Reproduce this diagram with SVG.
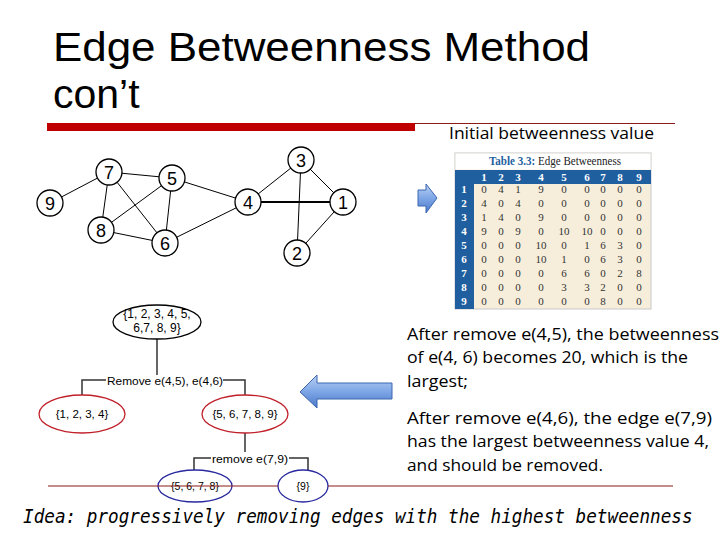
<svg xmlns="http://www.w3.org/2000/svg" width="720" height="540" viewBox="0 0 720 540">
<defs>
<linearGradient id="ag" x1="0" y1="0" x2="0" y2="1">
<stop offset="0" stop-color="#b9d0f2"/>
<stop offset="0.5" stop-color="#7ea6e6"/>
<stop offset="1" stop-color="#4a78c8"/>
</linearGradient>
<style>
.title{font-family:"Liberation Sans","DejaVu Sans",sans-serif;font-size:41px;fill:#000}
.body{font-family:"Open Sans","Liberation Sans",sans-serif;font-size:16px;fill:#000}
.edge{stroke:#000;stroke-width:1;fill:none}
.node circle{fill:#fff;stroke:#000;stroke-width:1.3}
.node text{font-family:"Liberation Sans",Arial,sans-serif;font-size:18px;text-anchor:middle;fill:#000}
.tl{font-family:"Liberation Sans",Arial,sans-serif;font-size:11.5px;fill:#000;text-anchor:middle}
.tree{stroke:#333;stroke-width:1.5;fill:none}
.tc{font-family:"Liberation Serif","Times New Roman",serif;font-size:11px;text-anchor:middle;fill:#333}
.th{font-family:"Liberation Serif","Times New Roman",serif;font-size:11px;text-anchor:middle;fill:#fff;font-weight:bold}
.arrow{fill:url(#ag);stroke:#3a66b0;stroke-width:1}
</style>
</defs>
<rect width="720" height="540" fill="#fff"/>

<!-- title -->
<text class="title" x="53" y="61" textLength="537" lengthAdjust="spacingAndGlyphs">Edge Betweenness Method</text>
<text class="title" x="53" y="108">con’t</text>
<rect x="47" y="123" width="368" height="8" fill="#c00000"/>
<line x1="415" y1="123.5" x2="675" y2="123.5" stroke="#8b1a1a" stroke-width="1"/>
<text class="body" x="449" y="139" textLength="205" lengthAdjust="spacingAndGlyphs">Initial betweenness value</text>

<!-- graph connectors -->
<g id="connectors">
<line class="edge" x1="50" y1="203" x2="109" y2="172"/>
<line class="edge" x1="109" y1="172" x2="172" y2="178"/>
<line class="edge" x1="109" y1="172" x2="101" y2="230"/>
<line class="edge" x1="109" y1="172" x2="165" y2="243"/>
<line class="edge" x1="172" y1="178" x2="101" y2="230"/>
<line class="edge" x1="172" y1="178" x2="165" y2="243"/>
<line class="edge" x1="172" y1="178" x2="248" y2="202"/>
<line class="edge" x1="101" y1="230" x2="165" y2="243"/>
<line class="edge" x1="165" y1="243" x2="248" y2="202"/>
<line class="edge" x1="248" y1="202" x2="301" y2="160"/>
<line class="edge" x1="248" y1="202" x2="343" y2="202" style="stroke-width:2.2"/>
<line class="edge" x1="301" y1="160" x2="343" y2="202"/>
<line class="edge" x1="301" y1="160" x2="297" y2="253"/>
<line class="edge" x1="343" y1="202" x2="297" y2="253"/>
</g>
<g id="n9" class="node"><circle cx="50" cy="203" r="13"/><text x="50" y="209.5">9</text></g>
<g id="n7" class="node"><circle cx="109" cy="172" r="13"/><text x="109" y="178.5">7</text></g>
<g id="n5" class="node"><circle cx="172" cy="178" r="13"/><text x="172" y="184.5">5</text></g>
<g id="n8" class="node"><circle cx="101" cy="230" r="13"/><text x="101" y="236.5">8</text></g>
<g id="n6" class="node"><circle cx="165" cy="243" r="13"/><text x="165" y="249.5">6</text></g>
<g id="n4" class="node"><circle cx="248" cy="202" r="13"/><text x="248" y="208.5">4</text></g>
<g id="n3" class="node"><circle cx="301" cy="160" r="13"/><text x="301" y="166.5">3</text></g>
<g id="n1" class="node"><circle cx="343" cy="202" r="13"/><text x="343" y="208.5">1</text></g>
<g id="n2" class="node"><circle cx="297" cy="253" r="13"/><text x="297" y="259.5">2</text></g>

<!-- right arrow -->
<path class="arrow" d="M418,190 L426,190 L426,184 L437,198 L426,213 L426,206 L418,206 Z"/>

<!-- table -->
<g id="table">
<rect x="455" y="153" width="196" height="156" fill="#f6eedb" stroke="#c8c8c8" stroke-width="1"/>
<rect x="455.5" y="153.5" width="195" height="16" fill="#fff"/>
<text x="555" y="165" font-family="Liberation Serif,serif" font-size="12" text-anchor="middle" textLength="132" lengthAdjust="spacingAndGlyphs"><tspan fill="#1f5fa0" font-weight="bold">Table 3.3:</tspan><tspan fill="#222"> Edge Betweenness</tspan></text>
<rect x="455" y="170" width="196" height="14" fill="#1f5fa0"/>
<rect x="455" y="184" width="19" height="125" fill="#1f5fa0"/>
<g class="th">
<text x="484" y="181">1</text><text x="501" y="181">2</text><text x="518" y="181">3</text><text x="541" y="181">4</text><text x="564" y="181">5</text><text x="587" y="181">6</text><text x="603" y="181">7</text><text x="620" y="181">8</text><text x="639" y="181">9</text>
<text x="464" y="193">1</text><text x="464" y="207">2</text><text x="464" y="221">3</text><text x="464" y="235">4</text><text x="464" y="249">5</text><text x="464" y="263">6</text><text x="464" y="277">7</text><text x="464" y="291">8</text><text x="464" y="305">9</text>
</g>
<g class="tc">
<text x="484" y="193">0</text><text x="501" y="193">4</text><text x="518" y="193">1</text><text x="541" y="193">9</text><text x="564" y="193">0</text><text x="587" y="193">0</text><text x="603" y="193">0</text><text x="620" y="193">0</text><text x="639" y="193">0</text>
<text x="484" y="207">4</text><text x="501" y="207">0</text><text x="518" y="207">4</text><text x="541" y="207">0</text><text x="564" y="207">0</text><text x="587" y="207">0</text><text x="603" y="207">0</text><text x="620" y="207">0</text><text x="639" y="207">0</text>
<text x="484" y="221">1</text><text x="501" y="221">4</text><text x="518" y="221">0</text><text x="541" y="221">9</text><text x="564" y="221">0</text><text x="587" y="221">0</text><text x="603" y="221">0</text><text x="620" y="221">0</text><text x="639" y="221">0</text>
<text x="484" y="235">9</text><text x="501" y="235">0</text><text x="518" y="235">9</text><text x="541" y="235">0</text><text x="564" y="235">10</text><text x="587" y="235">10</text><text x="603" y="235">0</text><text x="620" y="235">0</text><text x="639" y="235">0</text>
<text x="484" y="249">0</text><text x="501" y="249">0</text><text x="518" y="249">0</text><text x="541" y="249">10</text><text x="564" y="249">0</text><text x="587" y="249">1</text><text x="603" y="249">6</text><text x="620" y="249">3</text><text x="639" y="249">0</text>
<text x="484" y="263">0</text><text x="501" y="263">0</text><text x="518" y="263">0</text><text x="541" y="263">10</text><text x="564" y="263">1</text><text x="587" y="263">0</text><text x="603" y="263">6</text><text x="620" y="263">3</text><text x="639" y="263">0</text>
<text x="484" y="277">0</text><text x="501" y="277">0</text><text x="518" y="277">0</text><text x="541" y="277">0</text><text x="564" y="277">6</text><text x="587" y="277">6</text><text x="603" y="277">0</text><text x="620" y="277">2</text><text x="639" y="277">8</text>
<text x="484" y="291">0</text><text x="501" y="291">0</text><text x="518" y="291">0</text><text x="541" y="291">0</text><text x="564" y="291">3</text><text x="587" y="291">3</text><text x="603" y="291">2</text><text x="620" y="291">0</text><text x="639" y="291">0</text>
<text x="484" y="305">0</text><text x="501" y="305">0</text><text x="518" y="305">0</text><text x="541" y="305">0</text><text x="564" y="305">0</text><text x="587" y="305">0</text><text x="603" y="305">8</text><text x="620" y="305">0</text><text x="639" y="305">0</text>
</g>
</g>

<!-- tree connectors -->
<g id="tree-connectors" class="tree">
<polyline points="157,339 157,375"/>
<polyline points="82,396 82,380 106,380"/>
<polyline points="223,380 245,380 245,396"/>
<polyline points="245,433 245,452"/>
<polyline points="194,470 194,458 211,458"/>
<polyline points="289,458 308,458 308,470"/>
</g>
<text class="tl" x="165" y="384.5" textLength="116" lengthAdjust="spacingAndGlyphs">Remove e(4,5), e(4,6)</text>
<text class="tl" x="250" y="462.5" textLength="76" lengthAdjust="spacingAndGlyphs">remove e(7,9)</text>

<g id="t-all">
<ellipse cx="157" cy="322" rx="44" ry="17" fill="#fff" stroke="#000" stroke-width="1.3"/>
<text class="tl" x="157" y="318" style="font-size:12px">{1, 2, 3, 4, 5,</text>
<text class="tl" x="157" y="332" style="font-size:12px">6,7, 8, 9}</text>
</g>
<g id="t-left">
<ellipse cx="82" cy="414" rx="43" ry="19" fill="#fff" stroke="#c0202a" stroke-width="1.3"/>
<text class="tl" x="82" y="418">{1, 2, 3, 4}</text>
</g>
<g id="t-right">
<ellipse cx="245" cy="414" rx="43" ry="19" fill="#fff" stroke="#c0202a" stroke-width="1.3"/>
<text class="tl" x="245" y="418">{5, 6, 7, 8, 9}</text>
</g>
<g id="t-5678">
<ellipse cx="195" cy="486" rx="37" ry="16" fill="#fff" stroke="#2a2aa0" stroke-width="1.3"/>
<text class="tl" x="195" y="490" style="font-size:10.5px">{5, 6, 7, 8}</text>
</g>
<g id="t-9">
<ellipse cx="303" cy="486" rx="25" ry="16" fill="#fff" stroke="#2a2aa0" stroke-width="1.3"/>
<text class="tl" x="303" y="490" style="font-size:10.5px">{9}</text>
</g>

<line x1="48" y1="486" x2="278" y2="486" stroke="#8b1a1a" stroke-width="1.2"/>
<line x1="328" y1="486" x2="673" y2="486" stroke="#8b1a1a" stroke-width="1.2"/>

<!-- left arrow -->
<path class="arrow" d="M300,392 L317,375 L317,383 L392,383 L392,399 L317,399 L317,408 Z"/>

<!-- right text -->
<text class="body" x="407" y="340" textLength="312" lengthAdjust="spacingAndGlyphs">After remove e(4,5),  the betweenness</text>
<text class="body" x="407" y="363" textLength="281" lengthAdjust="spacingAndGlyphs">of e(4, 6) becomes 20, which is the</text>
<text class="body" x="407" y="387" textLength="61" lengthAdjust="spacingAndGlyphs">largest;</text>
<text class="body" x="407" y="424" textLength="305" lengthAdjust="spacingAndGlyphs">After remove e(4,6),   the edge  e(7,9)</text>
<text class="body" x="407" y="447" textLength="302" lengthAdjust="spacingAndGlyphs">has the largest betweenness value 4,</text>
<text class="body" x="407" y="471" textLength="196" lengthAdjust="spacingAndGlyphs">and should be removed.</text>

<text transform="translate(23,523) scale(0.93,1)" x="0" y="0" font-family="DejaVu Sans Mono,monospace" font-style="italic" font-size="19">Idea: progressively removing edges with the highest betweenness</text>
</svg>
